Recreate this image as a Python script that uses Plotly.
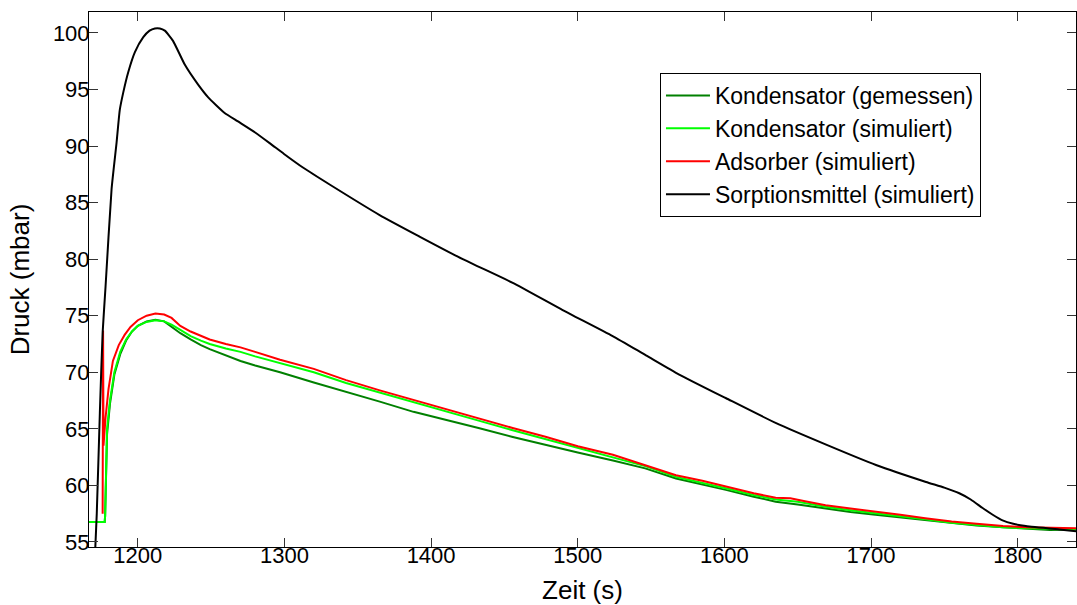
import plotly.graph_objects as go

# ---- data ----
t_green = [1166, 1177.4, 1177.7, 1179, 1181, 1184, 1188, 1192, 1196, 1200,
           1206, 1212, 1218, 1223, 1229, 1236, 1243, 1249, 1260, 1270,
           1280, 1297, 1320, 1342, 1365, 1388, 1410, 1433, 1455, 1478,
           1500, 1524, 1546, 1567, 1585, 1601, 1620, 1635, 1650, 1669,
           1686, 1703, 1720, 1737, 1755, 1772, 1790, 1806, 1822, 1840]
kond_gemessen = [56.75, 56.75, 57.3, 64.5, 67.2, 69.8, 71.6, 72.8, 73.6, 74.1,
                 74.5, 74.65, 74.5, 74.0, 73.45, 72.9, 72.4, 72.05, 71.5, 71.0,
                 70.6, 70.0, 69.1, 68.3, 67.4, 66.5, 65.8, 65.05, 64.3, 63.55,
                 62.9, 62.2, 61.5, 60.6, 60.1, 59.6, 59.0, 58.55, 58.3, 57.95,
                 57.65, 57.4, 57.15, 56.95, 56.7, 56.45, 56.3, 56.15, 56.05, 56.1]
kond_simuliert = [56.75, 56.75, 57.3, 65.0, 67.5, 70.0, 71.8, 72.9, 73.6, 74.1,
                  74.45, 74.6, 74.5, 74.2, 73.75, 73.2, 72.8, 72.5, 72.1, 71.8,
                  71.4, 70.8, 70.0, 69.05, 68.2, 67.3, 66.55, 65.7, 64.9, 64.1,
                  63.3, 62.5, 61.7, 60.75, 60.25, 59.75, 59.15, 58.75, 58.55, 58.1,
                  57.8, 57.55, 57.25, 57.0, 56.7, 56.5, 56.3, 56.2, 56.15, 56.15]

t_ads = [1176.0, 1176.3, 1176.6, 1178, 1180, 1183, 1187, 1191, 1195, 1200,
         1206, 1212, 1218, 1223, 1229, 1236, 1243, 1249, 1260, 1270,
         1280, 1297, 1320, 1342, 1365, 1388, 1410, 1433, 1455, 1478,
         1500, 1524, 1546, 1567, 1585, 1601, 1620, 1635, 1645, 1655,
         1669, 1686, 1703, 1720, 1737, 1755, 1772, 1790, 1806, 1822, 1840]
adsorber = [57.5, 73.7, 63.5, 66.0, 68.5, 71.0, 72.4, 73.3, 74.0, 74.6,
            75.0, 75.2, 75.1, 74.8, 74.1, 73.6, 73.2, 72.9, 72.5, 72.2,
            71.8, 71.1, 70.3, 69.3, 68.4, 67.55, 66.8, 65.95, 65.1, 64.3,
            63.45, 62.7, 61.75, 60.9, 60.4, 59.9, 59.3, 58.9, 58.85, 58.6,
            58.25, 57.95, 57.7, 57.4, 57.1, 56.8, 56.6, 56.4, 56.3, 56.25, 56.2]

t_sorp = [1170.5, 1172, 1174.1, 1176, 1178, 1182.1, 1185.5, 1187.7, 1190, 1193.4,
          1198, 1203.6, 1208, 1211.6, 1215, 1218.4, 1224, 1232, 1241, 1248,
          1259, 1268, 1280, 1291, 1299.7, 1312.6, 1330.8, 1364.9, 1392.1, 1421.6,
          1455.7, 1489.7, 1523.8, 1546.5, 1569.2, 1601.2, 1635.3, 1669.4, 1703.4, 1737.5,
          1750, 1760.2, 1768, 1776.1, 1783, 1789.7, 1797, 1805.6, 1828.3, 1840]
sorptionsmittel = [53.0, 57.5, 66.4, 73.5, 77.6, 86.2, 90.3, 93.2, 94.7, 96.5,
                   98.3, 99.6, 100.2, 100.4, 100.4, 100.2, 99.3, 97.2, 95.45, 94.3,
                   92.95, 92.2, 91.2, 90.15, 89.3, 88.1, 86.6, 83.9, 82.0, 80.0,
                   77.9, 75.5, 73.2, 71.5, 69.8, 67.7, 65.5, 63.6, 61.8, 60.3,
                   59.8, 59.3, 58.75, 58.0, 57.4, 56.9, 56.6, 56.4, 56.1, 55.95]

x_ticks = [1200, 1300, 1400, 1500, 1600, 1700, 1800]
y_ticks = [55, 60, 65, 70, 75, 80, 85, 90, 95, 100]

names = ["Kondensator (gemessen)", "Kondensator (simuliert)",
         "Adsorber (simuliert)", "Sorptionsmittel (simuliert)"]
colors = ["#008000", "#00FF00", "#FF0000", "#000000"]

FONT = "Liberation Sans, Arial, sans-serif"

fig = go.Figure()
series = [(t_green, kond_gemessen), (t_green, kond_simuliert),
          (t_ads, adsorber), (t_sorp, sorptionsmittel)]
for i, ((tx, ty), nm, col) in enumerate(zip(series, names, colors)):
    line = dict(color=col, width=2)
    if i == 3:
        line.update(shape="spline", smoothing=0.5)
    fig.add_trace(go.Scatter(x=tx, y=ty, mode="lines", name=nm, line=line))

axis_common = dict(showline=True, linecolor="black", linewidth=1, mirror="ticks",
                   ticks="inside", ticklen=9, tickcolor="#333333", tickwidth=1,
                   showgrid=False, zeroline=False,
                   tickfont=dict(family=FONT, size=22, color="black"))

fig.update_xaxes(range=[1166.7, 1839.8], tickvals=x_ticks, ticklabelstandoff=-11,
                 title=dict(text="Zeit (s)", font=dict(family=FONT, size=26, color="black"),
                            standoff=13),
                 **axis_common)
fig.update_yaxes(range=[54.55, 101.85], tickvals=y_ticks, ticklabelstandoff=-6,
                 title=dict(text="Druck (mbar)", font=dict(family=FONT, size=26, color="black"),
                            standoff=15),
                 **axis_common)

fig.update_layout(
    width=1077, height=605,
    margin=dict(l=89, r=1, t=12, b=58),
    paper_bgcolor="white", plot_bgcolor="white",
    font=dict(family=FONT, color="black"),
    showlegend=True,
    legend=dict(x=0.5785, y=0.886, xanchor="left", yanchor="top",
                bgcolor="white", bordercolor="black", borderwidth=1,
                font=dict(family=FONT, size=23, color="black"),
                itemwidth=44, traceorder="normal"),
)

fig.write_html("out.html")
